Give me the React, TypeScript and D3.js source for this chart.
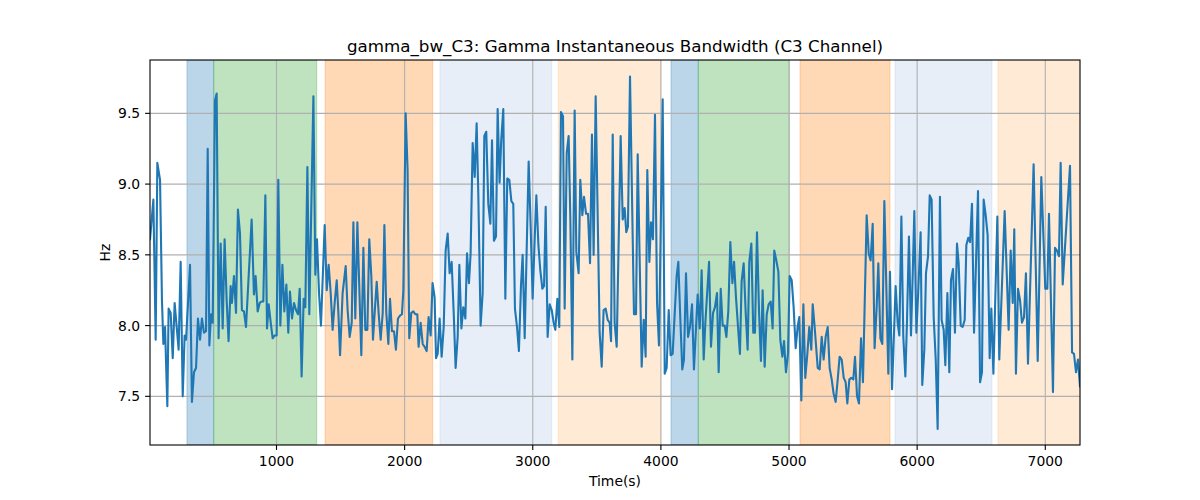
import * as d3 from "d3";

const W = 1200;
const H = 500;
const MARGIN = { top: 60, right: 120, bottom: 55, left: 150 };

const TITLE = "gamma_bw_C3: Gamma Instantaneous Bandwidth (C3 Channel)";
const X_LIMITS: [number, number] = [12.7, 7271];
const Y_LIMITS: [number, number] = [7.156, 9.877];
const X_TICKS = [1000, 2000, 3000, 4000, 5000, 6000, 7000];
const Y_TICKS = [7.5, 8.0, 8.5, 9.0, 9.5];

// shaded segments (seconds)
const BAND_START = [301, 510, 1379, 2276, 3199, 4079, 4292, 5086, 5827, 6631];
const BAND_END = [510, 1314, 2219, 3148, 4001, 4292, 5003, 5788, 6584, 7320];
const BAND_KIND = ["a", "b", "c", "d", "e", "a", "b", "c", "d", "e"];

// [time s, Hz]
const BW_SAMPLES: [number, number][] = [
  [13, 8.61], [39, 8.89], [57, 7.9], [70, 9.15], [91, 9.03], [106, 8.18], [117, 7.87], [130, 7.99], [148, 7.43], [158, 8.12],
  [174, 8.09], [190, 7.77], [205, 8.16], [221, 7.99], [236, 7.83], [252, 8.45], [268, 7.5], [283, 7.93], [294, 7.9], [325, 8.43],
  [340, 7.46], [356, 7.67], [372, 7.7], [387, 8.05], [403, 7.9], [418, 8.05], [434, 7.95], [450, 7.96], [463, 9.25], [476, 7.86],
  [489, 8.08], [502, 8.02], [520, 9.59], [533, 9.64], [548, 7.91], [564, 8.58], [580, 7.98], [595, 8.61], [611, 8.18], [626, 7.89],
  [642, 8.28], [652, 8.16], [668, 8.35], [684, 8.09], [699, 8.82], [715, 8.65], [730, 8.11], [746, 8.1], [762, 7.99], [777, 8.25],
  [806, 8.75], [824, 8.22], [837, 8.35], [853, 8.1], [869, 8.16], [884, 8.17], [897, 8.17], [913, 8.92], [926, 7.98], [939, 8.15],
  [955, 8.02], [970, 7.91], [986, 7.93], [1001, 7.93], [1014, 9.03], [1030, 8.0], [1046, 8.43], [1061, 8.1], [1077, 8.29], [1092, 7.95],
  [1105, 8.24], [1121, 8.05], [1137, 8.16], [1152, 8.11], [1168, 8.08], [1181, 8.26], [1196, 7.64], [1212, 8.19], [1225, 8.13], [1241, 9.12],
  [1256, 8.08], [1288, 9.62], [1303, 8.36], [1316, 8.61], [1332, 8.23], [1347, 8.0], [1376, 8.71], [1392, 8.25], [1407, 8.43], [1423, 8.23],
  [1438, 7.97], [1454, 8.16], [1470, 8.32], [1483, 8.09],
  [1496, 7.79], [1516, 8.23], [1540, 8.42], [1555, 8.11], [1571, 7.92], [1587, 8.02], [1600, 8.73], [1615, 8.05], [1631, 8.73], [1662, 7.79],
  [1678, 8.55], [1693, 7.97], [1709, 7.97], [1724, 8.61], [1740, 8.35], [1753, 7.9], [1769, 8.13], [1782, 8.31], [1797, 8.09], [1813, 7.9],
  [1829, 8.09], [1842, 8.71], [1857, 8.09], [1873, 7.87], [1886, 8.19], [1901, 7.96], [1917, 7.96], [1932, 7.83], [1948, 8.05], [1964, 8.07],
  [1979, 8.08], [1990, 8.25], [2008, 9.5], [2023, 9.1], [2036, 7.91], [2052, 8.09], [2068, 8.1], [2083, 8.08], [2099, 8.08], [2109, 7.85],
  [2125, 8.02], [2141, 7.87], [2156, 7.85], [2172, 7.82], [2187, 8.06], [2203, 7.93], [2218, 8.3], [2234, 8.2],
  [2245, 7.77], [2258, 7.8], [2273, 8.05], [2289, 7.78], [2305, 7.99], [2320, 8.53], [2336, 8.65], [2351, 8.37], [2367, 8.45], [2383, 8.09],
  [2398, 7.7], [2414, 7.92], [2427, 8.43], [2443, 7.98], [2458, 8.13], [2474, 8.05], [2487, 8.51], [2502, 8.3], [2515, 8.51], [2531, 9.29],
  [2547, 9.05], [2562, 9.43], [2575, 8.93], [2593, 8.0], [2609, 8.23], [2622, 9.34], [2637, 9.37], [2653, 8.86], [2669, 8.72], [2682, 9.31],
  [2697, 8.6], [2713, 8.63], [2726, 9.53], [2741, 9.01], [2754, 9.31], [2770, 9.53], [2786, 8.19], [2801, 9.04], [2817, 9.03], [2833, 8.88],
  [2848, 8.86], [2861, 8.12], [2877, 7.99], [2892, 7.82], [2908, 8.28], [2921, 8.5], [2937, 7.91], [2968, 9.16], [2984, 8.69],
  [2999, 8.19], [3015, 8.61], [3028, 8.92], [3044, 8.57], [3059, 8.39], [3075, 8.26], [3088, 8.28], [3101, 8.84], [3116, 7.92], [3132, 8.15],
  [3148, 8.11], [3163, 8.02], [3176, 7.97], [3192, 8.19], [3207, 7.99], [3220, 9.51], [3236, 9.48], [3249, 8.12], [3265, 9.22], [3280, 9.34],
  [3293, 8.77], [3309, 7.76], [3327, 9.52], [3340, 8.52], [3358, 8.37], [3371, 9.03], [3387, 8.78], [3400, 8.91], [3416, 8.79], [3431, 8.79],
  [3447, 8.44], [3462, 9.35], [3475, 8.5], [3491, 9.62], [3522, 7.95], [3538, 7.71], [3553, 8.11], [3569, 8.12], [3585, 8.04], [3600, 8.02],
  [3611, 7.89], [3624, 9.35], [3639, 8.02], [3655, 7.85], [3686, 9.34], [3702, 8.75], [3717, 8.83],
  [3730, 8.66], [3743, 8.7], [3759, 9.76], [3790, 8.08], [3806, 8.08], [3819, 9.21], [3850, 7.71], [3866, 8.04], [3881, 7.78], [3894, 9.1],
  [3910, 8.45], [3923, 8.73], [3938, 8.61], [3954, 9.49], [3970, 8.16], [3985, 7.86], [4014, 9.6], [4030, 7.66], [4045, 7.7], [4061, 8.11],
  [4076, 7.79], [4092, 7.8], [4108, 8.09], [4123, 8.35], [4136, 8.45], [4152, 8.04], [4167, 7.69], [4180, 7.76], [4196, 8.37], [4212, 7.92],
  [4227, 7.99], [4243, 8.15], [4258, 7.69], [4287, 8.22], [4303, 7.98], [4318, 8.39], [4334, 7.76], [4347, 8.02], [4376, 8.45], [4391, 7.85],
  [4407, 8.09], [4422, 8.13], [4438, 8.23], [4451, 7.67], [4467, 8.26],
  [4482, 8.0], [4498, 8.0], [4511, 7.92], [4526, 8.1], [4542, 8.59], [4558, 8.3], [4571, 8.45], [4586, 8.2], [4602, 7.99], [4617, 7.8],
  [4630, 8.31], [4646, 8.44], [4662, 8.09], [4677, 7.83], [4690, 8.45], [4706, 8.58], [4721, 7.95], [4734, 7.95], [4750, 8.66], [4766, 8.1],
  [4781, 7.75], [4794, 8.25], [4810, 7.71], [4826, 8.08], [4841, 8.15], [4857, 8.17], [4872, 7.98], [4885, 8.53], [4901, 8.46], [4917, 8.38],
  [4932, 7.9], [4948, 7.78], [4961, 7.89], [4976, 7.67], [4992, 7.8], [5005, 8.35], [5021, 8.32], [5036, 8.13], [5052, 7.84], [5067, 7.99],
  [5080, 8.06], [5096, 7.47], [5112, 8.15], [5127, 7.63], [5143, 7.8], [5158, 7.99], [5174, 7.83], [5185, 8.15], [5200, 7.99],
  [5224, 7.7], [5239, 7.69], [5255, 7.92], [5270, 7.76], [5286, 7.92], [5302, 7.99], [5317, 7.7], [5333, 7.62], [5348, 7.52], [5364, 7.46],
  [5380, 7.62], [5395, 7.78], [5411, 7.76], [5427, 7.63], [5442, 7.6], [5455, 7.45], [5471, 7.62], [5486, 7.63], [5502, 7.62], [5515, 7.78],
  [5531, 7.5], [5546, 7.45], [5562, 7.91], [5577, 7.6], [5606, 8.78], [5622, 8.51], [5637, 8.46], [5653, 8.72], [5668, 7.84], [5684, 8.13],
  [5697, 8.44], [5713, 7.91], [5728, 7.87], [5744, 8.88], [5775, 7.66], [5788, 8.38], [5804, 7.55], [5832, 8.28], [5848, 8.02], [5861, 7.93],
  [5877, 8.77], [5892, 7.92], [5908, 7.64], [5921, 8.04], [5936, 8.63],
  [5952, 7.93], [5965, 8.35], [5978, 8.81], [5994, 7.95], [6009, 8.25], [6027, 8.66], [6040, 7.58], [6056, 7.83], [6069, 8.37], [6085, 8.49],
  [6098, 8.92], [6113, 8.89], [6129, 8.06], [6145, 7.76], [6160, 7.27], [6178, 8.91], [6191, 8.04], [6207, 7.97], [6220, 7.72], [6236, 8.23],
  [6251, 7.67], [6264, 8.32], [6280, 8.4], [6295, 7.95], [6311, 8.58], [6324, 8.44], [6340, 8.0], [6355, 7.99], [6371, 8.04], [6384, 8.57],
  [6399, 8.62], [6413, 8.59], [6428, 8.86], [6444, 7.95], [6475, 8.95], [6491, 7.6], [6506, 7.67], [6519, 8.89], [6535, 8.78], [6550, 8.64],
  [6566, 7.77], [6579, 8.12], [6595, 7.66], [6626, 8.77], [6641, 7.76],
  [6683, 8.81], [6714, 7.97], [6730, 8.53], [6746, 8.16], [6758, 8.68], [6771, 7.66], [6787, 8.26], [6803, 8.18], [6818, 8.02], [6834, 8.06],
  [6849, 8.37], [6865, 7.73], [6909, 9.14], [6941, 7.75], [6969, 9.05], [7000, 8.26], [7016, 8.26], [7029, 8.79], [7060, 7.53], [7076, 8.55],
  [7091, 8.53], [7107, 8.49], [7120, 9.15], [7136, 8.29], [7193, 9.13], [7209, 7.81], [7224, 7.8], [7240, 7.67], [7255, 7.76], [7271, 7.57],
];

const FONT = "DejaVu Sans, sans-serif";

export default function App() {
  const innerW = W - MARGIN.left - MARGIN.right;
  const innerH = H - MARGIN.top - MARGIN.bottom;

  const x = d3.scaleLinear().domain(X_LIMITS).range([0, innerW]);
  const y = d3.scaleLinear().domain(Y_LIMITS).range([innerH, 0]);

  const bandColor = d3
    .scaleOrdinal<string, string>()
    .domain(["a", "b", "c", "d", "e"])
    .range(["#1f77b4", "#2ca02c", "#ff7f0e", "#aec7e8", "#ffbb78"]);

  const line = d3
    .line<[number, number]>()
    .x((d) => x(d[0]))
    .y((d) => y(d[1]));

  return (
    <svg
      width={W}
      height={H}
      style={{ position: "absolute", left: 0, top: 0, background: "#fff" }}
      fontFamily={FONT}
    >
      <defs>
        <clipPath id="plot-clip">
          <rect x={0} y={0} width={innerW} height={innerH} />
        </clipPath>
      </defs>
      <text x={MARGIN.left + innerW / 2} y={52} textAnchor="middle" fontSize={16.7} fill="#000">
        {TITLE}
      </text>
      <g transform={`translate(${MARGIN.left},${MARGIN.top})`}>
        <g clipPath="url(#plot-clip)">
          {BAND_START.map((s, i) => (
            <rect
              key={`band-${i}`}
              x={x(s)}
              y={0}
              width={x(BAND_END[i]) - x(s)}
              height={innerH}
              fill={bandColor(BAND_KIND[i])}
              fillOpacity={0.3}
              stroke={bandColor(BAND_KIND[i])}
              strokeOpacity={0.3}
              strokeWidth={1}
            />
          ))}
          {/* grid */}
          {X_TICKS.map((t) => (
            <line key={`gx-${t}`} x1={x(t)} x2={x(t)} y1={0} y2={innerH} stroke="#b0b0b0" strokeWidth={1.1} />
          ))}
          {Y_TICKS.map((t) => (
            <line key={`gy-${t}`} x1={0} x2={innerW} y1={y(t)} y2={y(t)} stroke="#b0b0b0" strokeWidth={1.1} />
          ))}
          <path
            d={line(BW_SAMPLES) ?? ""}
            fill="none"
            stroke="#1f77b4"
            strokeWidth={2.1}
            strokeLinejoin="round"
            strokeLinecap="square"
          />
        </g>
        {/* spines */}
        <rect x={0} y={0} width={innerW} height={innerH} fill="none" stroke="#000" strokeWidth={1.1} />
        {X_TICKS.map((t) => (
          <g key={`tx-${t}`} transform={`translate(${x(t)},${innerH})`}>
            <line y2={4.9} stroke="#000" strokeWidth={1.1} />
            <text y={20.5} fontSize={13.9} textAnchor="middle" fill="#000">
              {t}
            </text>
          </g>
        ))}
        {Y_TICKS.map((t) => (
          <g key={`ty-${t}`} transform={`translate(0,${y(t)})`}>
            <line x2={-4.9} stroke="#000" strokeWidth={1.1} />
            <text x={-9.8} y={5} fontSize={13.9} textAnchor="end" fill="#000">
              {t.toFixed(1)}
            </text>
          </g>
        ))}
        <text x={innerW / 2} y={innerH + 41} fontSize={13.9} textAnchor="middle" fill="#000">
          Time(s)
        </text>
        <text
          transform={`translate(-40,${innerH / 2}) rotate(-90)`}
          fontSize={13.9}
          textAnchor="middle"
          fill="#000"
        >
          Hz
        </text>
      </g>
    </svg>
  );
}
